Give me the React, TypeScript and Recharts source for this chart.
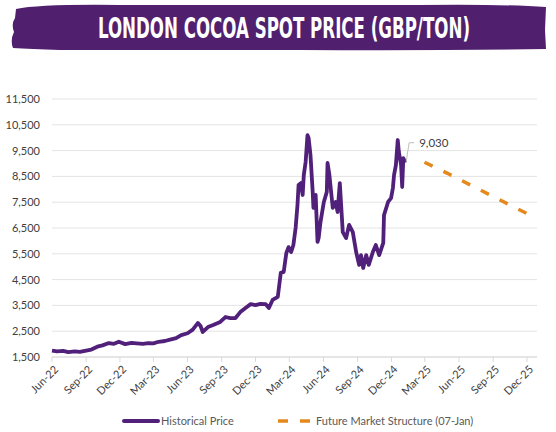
import React from "react";
import { LineChart, Line, XAxis, YAxis, CartesianGrid } from "recharts";

const HIST_DATES = [
  "2022-06-01", "2022-06-15", "2022-07-01", "2022-07-15", "2022-08-01", "2022-08-15",
  "2022-09-01", "2022-09-15", "2022-10-01", "2022-10-15", "2022-11-01", "2022-11-15",
  "2022-11-28", "2022-12-15", "2023-01-01", "2023-01-15", "2023-02-01", "2023-02-15",
  "2023-03-01", "2023-03-15", "2023-04-01", "2023-04-15", "2023-05-01", "2023-05-15",
  "2023-06-01", "2023-06-15", "2023-06-29", "2023-07-06", "2023-07-12", "2023-07-26",
  "2023-08-09", "2023-08-28", "2023-09-11", "2023-09-24", "2023-10-08", "2023-10-21",
  "2023-11-04", "2023-11-18", "2023-12-01", "2023-12-14", "2023-12-28", "2024-01-06",
  "2024-01-16", "2024-01-30", "2024-02-07", "2024-02-15", "2024-02-22", "2024-02-28",
  "2024-03-06", "2024-03-12", "2024-03-18", "2024-03-23", "2024-03-26", "2024-04-01",
  "2024-04-06", "2024-04-09", "2024-04-14", "2024-04-19", "2024-04-22", "2024-04-27",
  "2024-05-03", "2024-05-05", "2024-05-11", "2024-05-16", "2024-05-19", "2024-05-24",
  "2024-06-02", "2024-06-10", "2024-06-12", "2024-06-17", "2024-06-26", "2024-07-04",
  "2024-07-09", "2024-07-15", "2024-07-23", "2024-08-01", "2024-08-09", "2024-08-19",
  "2024-08-28", "2024-09-05", "2024-09-10", "2024-09-16", "2024-09-24", "2024-10-01",
  "2024-10-12", "2024-10-20", "2024-10-29", "2024-11-09", "2024-11-11", "2024-11-22",
  "2024-11-30", "2024-12-05", "2024-12-08", "2024-12-13", "2024-12-18", "2024-12-21",
  "2024-12-27", "2024-12-30", "2025-01-02", "2025-01-07",
];
const HIST_VALUES = [
  1750, 1720, 1740, 1690, 1720, 1700,
  1750, 1790, 1900, 1950, 2040, 2010,
  2090, 2000, 2050, 2030, 2010, 2040,
  2030, 2090, 2120, 2170, 2230, 2350,
  2420, 2560, 2820, 2700, 2470, 2660,
  2740, 2860, 3050, 3010, 3010, 3240,
  3400, 3550, 3510, 3560, 3550, 3400,
  3710, 3830, 4760, 4800, 5530, 5760,
  5570, 5840, 6500, 7390, 8170, 8240,
  7780, 8550, 9060, 10100, 9990, 9330,
  7900, 7280, 7780, 5960, 6110, 6730,
  7510, 7900, 9020, 8550, 7280, 7510,
  7120, 8240, 6340, 6110, 6620, 6340,
  5570, 5070, 5450, 4950, 5450, 5070,
  5570, 5840, 5450, 5920, 7000, 7510,
  7660, 8050, 8550, 8940, 9910, 9450,
  8940, 8090, 9210, 9030,
];

const FUTURE_DATES = ["2025-02-28", "2025-05-01", "2025-07-01", "2025-09-01", "2025-12-01", "2025-12-28"];
const FUTURE_VALUES = [9050, 8620, 8170, 7720, 7060, 6890];

const X_TICK_DATES = [
  "2022-06-01", "2022-09-01", "2022-12-01", "2023-03-01", "2023-06-01", "2023-09-01",
  "2023-12-01", "2024-03-01", "2024-06-01", "2024-09-01", "2024-12-01", "2025-03-01",
  "2025-06-01", "2025-09-01", "2025-12-01",
];
const Y_TICKS = [1500, 2500, 3500, 4500, 5500, 6500, 7500, 8500, 9500, 10500, 11500];

const PURPLE = "#50207A";
const ORANGE = "#E3891E";
const FONT = "Lato, 'Open Sans', sans-serif";
const MONTHS = ["Jan", "Feb", "Mar", "Apr", "May", "Jun", "Jul", "Aug", "Sep", "Oct", "Nov", "Dec"];

const toTime = (s: string) => {
  const [y, m, d] = s.split("-").map(Number);
  return Date.UTC(y, m - 1, d);
};

const histData = HIST_DATES.map((d, i) => ({ t: toTime(d), price: HIST_VALUES[i] }));
const futureData = FUTURE_DATES.map((d, i) => ({ t: toTime(d), price: FUTURE_VALUES[i] }));
const xTicks = X_TICK_DATES.map(toTime);

const fmtMonth = (v: number) => {
  const d = new Date(v);
  return `${MONTHS[d.getUTCMonth()]}-${String(d.getUTCFullYear()).slice(2)}`;
};

function XTick({ x, y, payload }: { x?: number; y?: number; payload?: { value: number } }) {
  return (
    <g transform={`translate(${x},${(y ?? 0) + 2})`}>
      <text x={2} y={0} dy="0.71em" textAnchor="end" transform="rotate(-45)" fill="#404040" fontSize={11} fontFamily={FONT}>
        {fmtMonth(payload?.value ?? 0)}
      </text>
    </g>
  );
}

function LastLabel(props: { x?: number; y?: number; index?: number }) {
  const { x = 0, y = 0, index } = props;
  if (index !== HIST_VALUES.length - 1) return null;
  return (
    <g>
      <polyline points={`${x + 1},${y - 1} ${x + 4},${y - 20} ${x + 9},${y - 20}`} fill="none" stroke="#bfbfbf" strokeWidth={1} />
      <text x={x + 14} y={y - 20} dy="0.35em" fill="#404040" fontSize={11.5} fontFamily={FONT}>
        {HIST_VALUES[HIST_VALUES.length - 1].toLocaleString("en-US")}
      </text>
    </g>
  );
}

function Title() {
  return (
    <svg width={556} height={56} style={{ position: "absolute", left: 0, top: 0 }}>
      <path
        d="M16,9 Q40,4 120,5 L420,5 Q500,4 546,7 L545,30 L546,49 Q420,51 300,50 L60,50 Q30,49 13,48 Q10,40 14,32 Q11,24 15,18 Z"
        fill="#501F6E"
      />
      <g transform="translate(284,28) scale(0.8,1)">
        <text
          x={0}
          y={0}
          dy="0.36em"
          textAnchor="middle"
          fill="#ffffff"
          fontSize={28}
          fontWeight="bold"
          fontFamily="'Liberation Sans Narrow', 'DejaVu Sans Condensed', sans-serif"
          textLength={465}
          lengthAdjust="spacingAndGlyphs"
        >
          LONDON COCOA SPOT PRICE (GBP/TON)
        </text>
      </g>
    </svg>
  );
}

function LegendRow() {
  return (
    <div style={{ position: "absolute", left: 0, top: 412, width: 556, height: 18, fontFamily: FONT, fontSize: 11, color: "#595959" }}>
      <svg width={40} height={18} style={{ position: "absolute", left: 122, top: 0 }}>
        <line x1={2} y1={9} x2={36} y2={9} stroke={PURPLE} strokeWidth={4} strokeLinecap="round" />
      </svg>
      <span style={{ position: "absolute", left: 161, top: 2 }}>Historical Price</span>
      <svg width={40} height={18} style={{ position: "absolute", left: 276, top: 0 }}>
        <line x1={2} y1={9} x2={35} y2={9} stroke={ORANGE} strokeWidth={3.5} strokeDasharray="10 12" />
      </svg>
      <span style={{ position: "absolute", left: 316, top: 2 }}>Future Market Structure (07-Jan)</span>
    </div>
  );
}

export default function App() {
  return (
    <div style={{ position: "absolute", left: 0, top: 0, width: 556, height: 432, background: "#ffffff" }}>
      <Title />
      <div style={{ position: "absolute", left: 0, top: 0 }}>
        <LineChart width={556} height={432} margin={{ top: 99, right: 19, left: 8, bottom: 35 }}>
          <CartesianGrid horizontal vertical={false} stroke="#e4e4e4" strokeWidth={1} />
          <XAxis
            dataKey="t"
            type="number"
            scale="time"
            domain={[toTime("2022-06-01"), toTime("2025-12-28")]}
            ticks={xTicks}
            tick={<XTick />}
            tickLine={{ stroke: "#d9d9d9" }}
            tickSize={5}
            axisLine={{ stroke: "#d9d9d9" }}
            height={40}
            interval={0}
            allowDuplicatedCategory={false}
          />
          <YAxis
            type="number"
            domain={[1500, 11500]}
            ticks={Y_TICKS}
            interval={0}
            width={44}
            tickLine={false}
            axisLine={false}
            tickMargin={6}
            tick={{ fill: "#404040", fontSize: 11, fontFamily: FONT }}
            tickFormatter={(v: number) => v.toLocaleString("en-US")}
          />
          <Line
            data={histData}
            dataKey="price"
            type="linear"
            stroke={PURPLE}
            strokeWidth={3.8}
            strokeLinejoin="round"
            dot={false}
            label={<LastLabel />}
            isAnimationActive={false}
          />
          <Line
            data={futureData}
            dataKey="price"
            type="linear"
            stroke={ORANGE}
            strokeWidth={3.5}
            strokeDasharray="9 12"
            dot={false}
            isAnimationActive={false}
          />
        </LineChart>
      </div>
      <LegendRow />
    </div>
  );
}
